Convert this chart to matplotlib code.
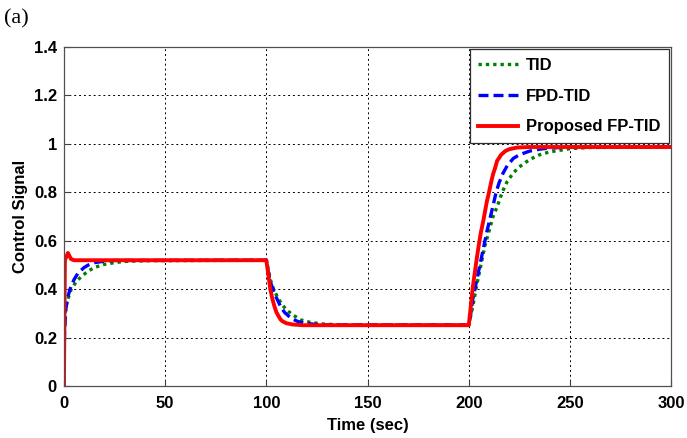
import matplotlib
matplotlib.use("Agg")
import matplotlib.pyplot as plt

# values
T_TID = [0, 0.01, 0.3, 1, 2, 3.6, 6, 8.6, 12, 15, 20, 25, 30, 40, 100,
         101, 102, 103.6, 106, 108, 110, 113, 117, 122, 128, 135, 140, 200,
         202, 204, 206, 208, 210, 212, 214, 216.5, 219, 222, 225, 230, 235, 240, 250, 260, 300]
Y_TID = [0, 0.0, 0.28, 0.33, 0.36, 0.40, 0.43, 0.453, 0.475, 0.49, 0.503, 0.51, 0.515, 0.518, 0.52,
         0.48, 0.44, 0.40, 0.36, 0.335, 0.315, 0.295, 0.274, 0.263, 0.257, 0.254, 0.253, 0.253,
         0.33, 0.42, 0.50, 0.58, 0.64, 0.70, 0.74, 0.80, 0.845, 0.88, 0.905, 0.935, 0.955, 0.967, 0.98, 0.985, 0.987]

T_FPD = [0, 0.01, 0.3, 1, 2, 3, 5, 7, 10, 12, 15, 20, 25, 100,
         101, 102, 103.3, 105, 107, 109, 111, 113, 116, 120, 125, 130, 200,
         201, 202, 203, 204, 205, 206, 207, 208, 209, 210, 211, 212, 213.5, 215, 217, 219, 222, 225,
         230, 235, 240, 250, 300]
Y_FPD = [0, 0.0, 0.22, 0.32, 0.37, 0.40, 0.44, 0.467, 0.49, 0.50, 0.51, 0.516, 0.519, 0.52,
         0.47, 0.43, 0.40, 0.365, 0.33, 0.305, 0.29, 0.277, 0.266, 0.259, 0.255, 0.253, 0.253,
         0.30, 0.36, 0.40, 0.44, 0.48, 0.52, 0.56, 0.60, 0.64, 0.675, 0.71, 0.745, 0.80, 0.84, 0.88, 0.91, 0.94, 0.955,
         0.97, 0.978, 0.983, 0.986, 0.987]

T_FP = [0, 0.01, 0.5, 2, 3.5, 5, 100,
        101, 102, 103, 104, 105, 106, 107, 108, 110, 113, 118, 200,
        201, 202, 203, 204, 205, 206, 207, 208, 209, 210, 211, 212, 213, 214, 216, 218, 220, 224, 230, 300]
Y_FP = [0, 0.0, 0.52, 0.55, 0.525, 0.52, 0.52,
        0.46, 0.40, 0.36, 0.33, 0.305, 0.29, 0.276, 0.268, 0.26, 0.255, 0.252, 0.252,
        0.33, 0.41, 0.47, 0.53, 0.585, 0.635, 0.675, 0.72, 0.765, 0.80, 0.84, 0.875, 0.90, 0.93, 0.955, 0.97, 0.978, 0.985, 0.987, 0.987]

XTICKS = [0, 50, 100, 150, 200, 250, 300]
YTICKS = [0, 0.2, 0.4, 0.6, 0.8, 1.0, 1.2, 1.4]
YTICKLABELS = ["0", "0.2", "0.4", "0.6", "0.8", "1", "1.2", "1.4"]

FONT = ["Liberation Sans", "DejaVu Sans"]


def make():
    fig = plt.figure(figsize=(6.87, 4.38), dpi=100)
    ax = fig.add_axes([0.093, 0.118, 0.884, 0.775])

    ax.plot(T_TID, Y_TID, color="#008000", lw=2.4, ls=(0, (1, 1.2)), label="TID")
    ax.plot(T_FPD, Y_FPD, color="#0000ff", lw=2.4, ls=(0, (3, 1.5)), label="FPD-TID")
    ax.plot(T_FP, Y_FP, color="#ff0000", lw=2.8, label="Proposed FP-TID")

    ax.set_xlim(0, 300); ax.set_ylim(0, 1.4)
    ax.set_xticks(XTICKS)
    ax.set_yticks(YTICKS)
    ax.set_xticklabels([str(v) for v in XTICKS])
    ax.set_yticklabels(YTICKLABELS)
    for lab in ax.get_xticklabels() + ax.get_yticklabels():
        lab.set_family(FONT); lab.set_fontweight("bold"); lab.set_fontsize(12)
    ax.tick_params(direction="in", length=4, color="#404040")
    ax.tick_params(axis="x", pad=7)
    ax.tick_params(axis="y", pad=5)
    ax.grid(True, color="black", ls=(0, (2, 3)), lw=0.7)
    for sp in ax.spines.values():
        sp.set_color("#505050"); sp.set_linewidth(0.9)

    ax.set_xlabel("Time (sec)", family=FONT, fontweight="bold", fontsize=12, labelpad=5)
    ax.set_ylabel("Control Signal", family=FONT, fontweight="bold", fontsize=12, labelpad=4)

    leg = ax.legend(loc="upper right", bbox_to_anchor=(1.0, 1.0), fancybox=False,
                    framealpha=1, edgecolor="#303030", handlelength=2.4,
                    borderaxespad=0.15, labelspacing=0.95, borderpad=0.5,
                    handletextpad=0.45,
                    prop=dict(family=FONT, weight="bold", size=12))
    leg.get_frame().set_linewidth(0.9)

    fig.text(0.006, 0.958, "(a)", family="Liberation Serif", fontsize=16, va="center")
    fig.savefig("out.png", dpi=100, facecolor="white")
    plt.close(fig)


if __name__ == "__main__":
    make()
